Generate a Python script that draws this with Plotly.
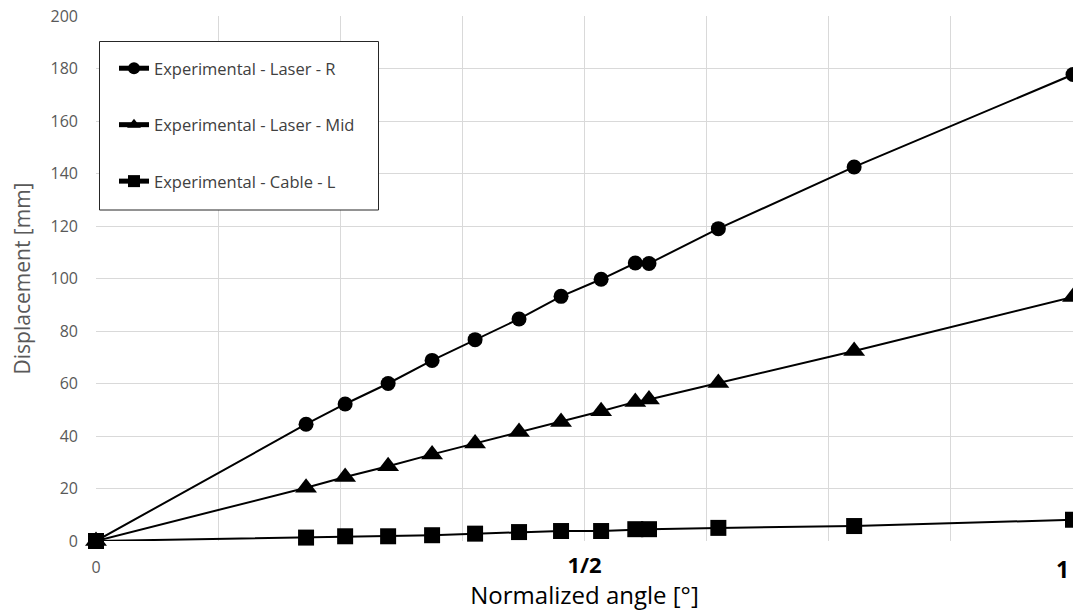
import plotly.graph_objects as go

# ---- data ----
angle = [0, 0.215, 0.255, 0.299, 0.344, 0.388, 0.433, 0.476, 0.517, 0.552, 0.566, 0.637, 0.776, 1.0]
laser_r = [0, 44.5, 52.2, 60.0, 68.8, 76.7, 84.6, 93.2, 99.7, 105.9, 105.7, 119.0, 142.5, 177.7]
laser_mid = [0, 20.3, 24.4, 28.5, 33.0, 37.1, 41.5, 45.3, 49.4, 53.0, 53.9, 60.2, 72.4, 93.0]
cable_l = [0, 1.3, 1.8, 1.8, 2.2, 2.8, 3.4, 3.8, 3.8, 4.5, 4.5, 5.0, 5.7, 8.1]

names = ["Experimental - Laser - R", "Experimental - Laser - Mid", "Experimental - Cable - L"]
x_tickvals = [0, 0.125, 0.25, 0.375, 0.5, 0.625, 0.75, 0.875, 1.0]
x_ticktext = ["0", "", "", "", "<span style='font-size:22px;color:#000000'><b>1/2</b></span>", "", "", "", ""]
y_tickvals = [0, 20, 40, 60, 80, 100, 120, 140, 160, 180, 200]

FONT = "Open Sans"
W, H = 1073, 611
L, R, T, B = 96, 0, 16, 70
plot_w = W - L - R

fig = go.Figure()
series = [(laser_r, "circle", 15), (laser_mid, "triangle-up", 19), (cable_l, "square", 16)]
for i, (vals, sym, sz) in enumerate(series):
    fig.add_trace(go.Scatter(
        x=angle, y=vals, mode="lines+markers", name=names[i],
        legendgroup=f"g{i}",
        line=dict(color="#000000", width=2),
        marker=dict(symbol=sym, size=sz, color="#000000", line=dict(width=0)),
        cliponaxis=False,
    ))

def px_x(p):
    return (p - L) / plot_w

def px_y(p):
    return 1 - (p - T) / (H - T - B)

# legend frame
fig.add_shape(type="rect", xref="paper", yref="paper",
              x0=px_x(99.5), x1=px_x(378.5), y0=px_y(210), y1=px_y(41.5),
              line=dict(color="#262626", width=1), fillcolor="#ffffff", layer="above")

fig.add_annotation(text="<b>1</b>", xref="paper", yref="paper", x=1.0, xanchor="right",
                   y=px_y(569), yanchor="middle", showarrow=False,
                   font=dict(family=FONT, size=23, color="#000000"), xshift=-2)

fig.update_layout(
    width=W, height=H,
    margin=dict(l=L, r=R, t=T, b=B, autoexpand=False),
    paper_bgcolor="#ffffff", plot_bgcolor="#ffffff",
    font=dict(family=FONT),
    showlegend=True,
    legend=dict(x=px_x(114), y=px_y(51), xanchor="left", yanchor="top",
                bgcolor="rgba(0,0,0,0)", borderwidth=0,
                font=dict(family=FONT, size=16.5, color="#404040"),
                tracegroupgap=32, itemsizing="constant"),
    xaxis=dict(range=[0, 1], tickmode="array", tickvals=x_tickvals, ticktext=x_ticktext,
               showgrid=True, gridcolor="#d9d9d9", gridwidth=1, zeroline=False,
               showline=False, ticks="", ticklabelstandoff=15,
               tickfont=dict(family=FONT, size=16, color="#595959"),
               title=dict(text="Normalized angle [°]", standoff=5,
                          font=dict(family=FONT, size=24, color="#000000")),
               automargin=False),
    yaxis=dict(range=[0, 200], tickmode="array", tickvals=y_tickvals,
               showgrid=True, gridcolor="#d9d9d9", gridwidth=1, zeroline=False,
               showline=False, ticks="", ticklabelstandoff=17,
               tickfont=dict(family=FONT, size=16, color="#595959"),
               title=dict(text="Displacement [mm]", standoff=14,
                          font=dict(family=FONT, size=21, color="#595959")),
               automargin=False),
)

fig.write_html("out.html")
